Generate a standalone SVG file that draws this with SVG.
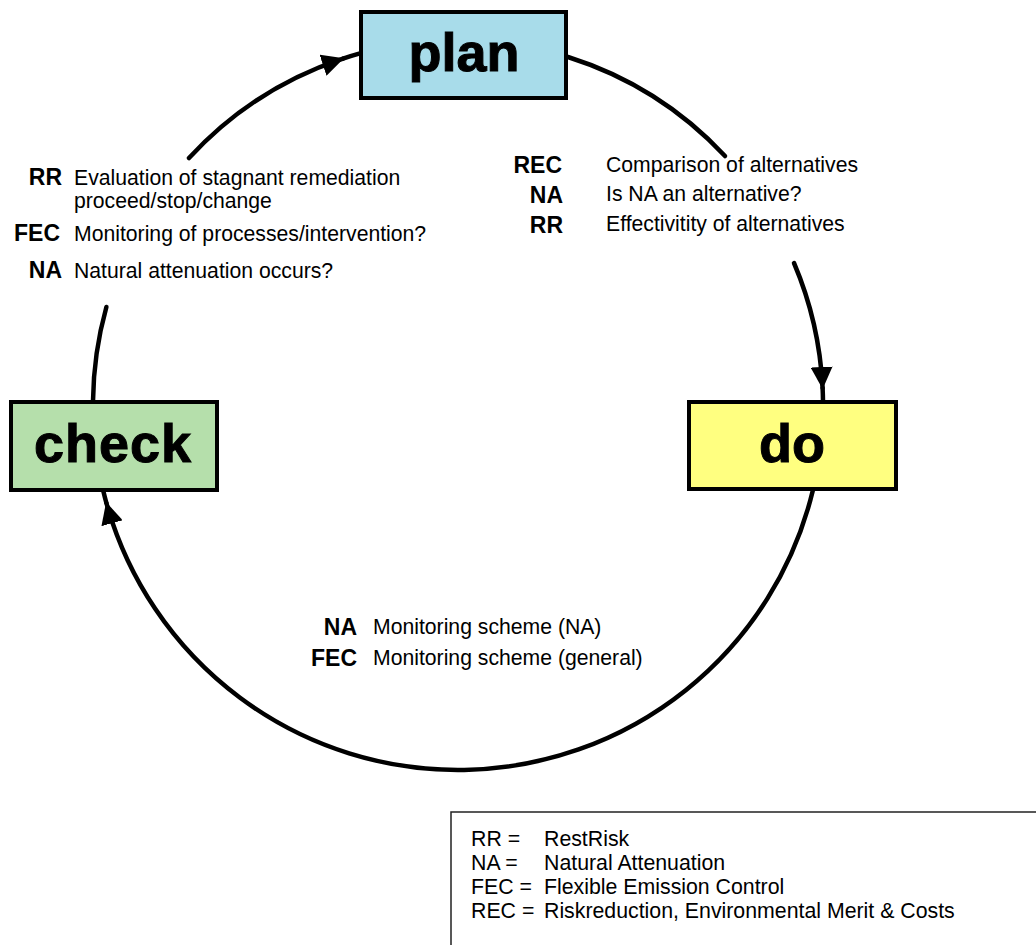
<svg xmlns="http://www.w3.org/2000/svg" width="1036" height="945" viewBox="0 0 1036 945">
<style>
.arc{fill:none;stroke:#000;stroke-width:4.5;stroke-linecap:round}
.box{stroke:#000;stroke-width:4}
.big{font-family:"Liberation Sans",Arial,sans-serif;font-weight:bold;font-size:54px;text-anchor:middle;fill:#000;stroke:#000;stroke-width:1}
.t{font-family:"Liberation Sans",Arial,sans-serif;font-size:21.2px;fill:#000}
.lb{font-family:"Liberation Sans",Arial,sans-serif;font-size:23px;font-weight:bold;fill:#000;text-anchor:end}
.lg{font-family:"Liberation Sans",Arial,sans-serif;font-size:21.3px;fill:#000}
</style>
<defs>
<marker id="ah" markerUnits="userSpaceOnUse" viewBox="0 0 22 22" refX="21" refY="11" markerWidth="22" markerHeight="22" orient="auto">
<path d="M0,0 L22,11 L0,22 z" fill="#000"/>
</marker>
</defs>
<rect width="1036" height="945" fill="#fff"/>
<g id="connectors">
<path class="arc" d="M568,57 A365,365 0 0 1 725,156"/>
<path class="arc" d="M794,263 A365,365 0 0 1 822.6,388" marker-end="url(#ah)"/>
<path class="arc" d="M822.6,388 A365,365 0 0 1 823,401"/>
<path class="arc" d="M812.7,491 A365,365 0 0 1 106.4,503" marker-end="url(#ah)"/>
<path class="arc" d="M106.4,503 A365,365 0 0 1 103.3,491"/>
<path class="arc" d="M93,401 A365,365 0 0 1 106.4,307"/>
<path class="arc" d="M189,158 A365,365 0 0 1 343,58.6" marker-end="url(#ah)"/>
<path class="arc" d="M343,58.6 A365,365 0 0 1 360,53.4"/>
</g>
<g id="plan">
<rect class="box" x="361" y="12" width="205" height="86" fill="#a8dcea"/>
<text class="big" x="464" y="71">plan</text>
</g>
<g id="check">
<rect class="box" x="11" y="402" width="206" height="88" fill="#b5dfab"/>
<text class="big" x="113" y="462" letter-spacing="1">check</text>
</g>
<g id="do">
<rect class="box" x="689" y="402" width="207" height="87" fill="#ffff80"/>
<text class="big" x="792" y="462">do</text>
</g>
<g id="check-notes">
<text class="lb" x="62" y="185">RR</text>
<text class="t" x="74" y="185">Evaluation of stagnant remediation</text>
<text class="t" x="74" y="208">proceed/stop/change</text>
<text class="lb" x="60" y="241">FEC</text>
<text class="t" x="74" y="241">Monitoring of processes/intervention?</text>
<text class="lb" x="62" y="278">NA</text>
<text class="t" x="74" y="278">Natural attenuation occurs?</text>
</g>
<g id="plan-notes">
<text class="lb" x="562" y="173">REC</text>
<text class="t" x="606" y="172">Comparison of alternatives</text>
<text class="lb" x="563" y="203">NA</text>
<text class="t" x="606" y="201">Is NA an alternative?</text>
<text class="lb" x="563" y="233">RR</text>
<text class="t" x="606" y="231">Effectivitity of alternatives</text>
</g>
<g id="do-notes">
<text class="lb" x="357" y="635">NA</text>
<text class="t" x="373" y="634">Monitoring scheme (NA)</text>
<text class="lb" x="357" y="666">FEC</text>
<text class="t" x="373" y="665">Monitoring scheme (general)</text>
</g>
<g id="legend">
<rect x="451" y="812" width="600" height="200" fill="#fff" stroke="#222" stroke-width="1.5"/>
<text class="lg" x="471" y="846">RR =</text>
<text class="lg" x="544" y="846">RestRisk</text>
<text class="lg" x="471" y="870">NA =</text>
<text class="lg" x="544" y="870">Natural Attenuation</text>
<text class="lg" x="471" y="894">FEC =</text>
<text class="lg" x="544" y="894">Flexible Emission Control</text>
<text class="lg" x="471" y="918">REC =</text>
<text class="lg" x="544" y="918">Riskreduction, Environmental Merit &amp; Costs</text>
</g>
</svg>
